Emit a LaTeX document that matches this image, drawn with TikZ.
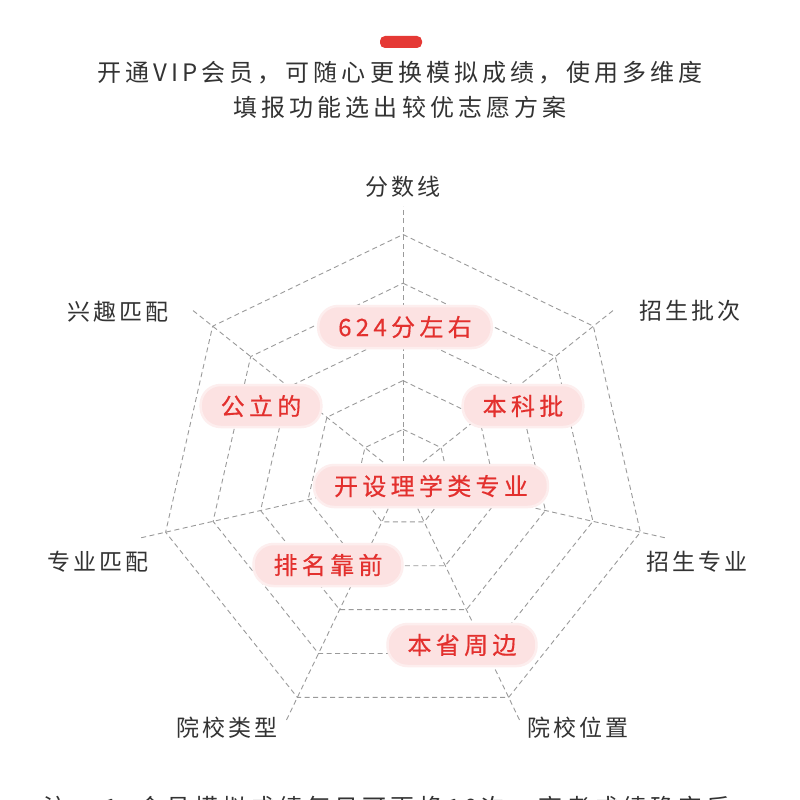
\documentclass[tikz,border=0pt]{standalone}
\usepackage{fontspec}
\setmainfont{Noto Sans CJK SC}
\newfontfamily\pillfont[LetterSpace=18,FakeBold=0.5]{Noto Sans CJK SC}
\newfontfamily\lblfont[LetterSpace=12]{Noto Sans CJK SC}
\newfontfamily\headfont[LetterSpace=17]{Noto Sans CJK SC}
\usetikzlibrary{calc}
\definecolor{grid}{HTML}{9A9A9A}
\definecolor{pillred}{HTML}{E3302E}
\definecolor{pillbg}{HTML}{FCE2E2}
\definecolor{txt}{HTML}{333333}
\definecolor{barred}{HTML}{E53935}
\tikzset{
  web/.style={draw=grid,dashed,dash pattern=on 5pt off 3.5pt,line width=0.9pt},
  axislbl/.style={font=\lblfont\fontsize{23}{25}\selectfont,text=txt,inner sep=0pt},
  pill/.style={fill=pillbg,rounded corners=20pt,minimum height=42pt,inner xsep=20pt,text=pillred,
    font=\pillfont\fontsize{24}{26}\selectfont,draw=pillbg!60!white,line width=2.5pt},
  head/.style={font=\headfont\fontsize{24}{26}\selectfont,text=txt,inner sep=0pt}
}
\begin{document}
\begin{tikzpicture}[x=1pt,y=1pt]
\clip (0,0) rectangle (800,-800);
\fill[white] (0,0) rectangle (800,-800);
\fill[barred,rounded corners=5pt] (380,-36) rectangle (422,-48);
\node[head] (h1) at (400,-73) {开通VIP会员，可随心更换模拟成绩，使用多维度};
\node[head] (h2) at (400,-107) {填报功能选出较优志愿方案};
\coordinate (c) at (403,-478);
\foreach \k in {0,...,6}{
  \draw[web] (c) -- ($(c)+({90-\k*360/7}:272)$);
}
\foreach \r in {48.7,97.4,146.1,194.8,243.5}{
  \draw[web] ($(c)+(90:\r)$)
    \foreach \k in {1,...,6}{ -- ($(c)+({90-\k*360/7}:\r)$) } -- cycle;
}
\node[axislbl] (l0) at (403,-187) {分数线};
\node[axislbl] (l1) at (690,-311) {招生批次};
\node[axislbl] (l2) at (697,-562) {招生专业};
\node[axislbl] (l3) at (578,-728) {院校位置};
\node[axislbl] (l4) at (227,-728) {院校类型};
\node[axislbl] (l5) at (98,-562) {专业匹配};
\node[axislbl] (l6) at (118,-312) {兴趣匹配};
\node[pill] (p1) at (405,-327) {624分左右};
\node[pill] (p2) at (261,-406) {公立的};
\node[pill] (p3) at (523,-406) {本科批};
\node[pill] (p4) at (431,-486) {开设理学类专业};
\node[pill] (p5) at (328,-565) {排名靠前};
\node[pill] (p6) at (462,-645) {本省周边};
\node[head,anchor=west] (foot) at (43,-808) {注：\ 1.\ 会员模拟成绩每日可更换10次，高考成绩确定后};
\end{tikzpicture}
\end{document}
